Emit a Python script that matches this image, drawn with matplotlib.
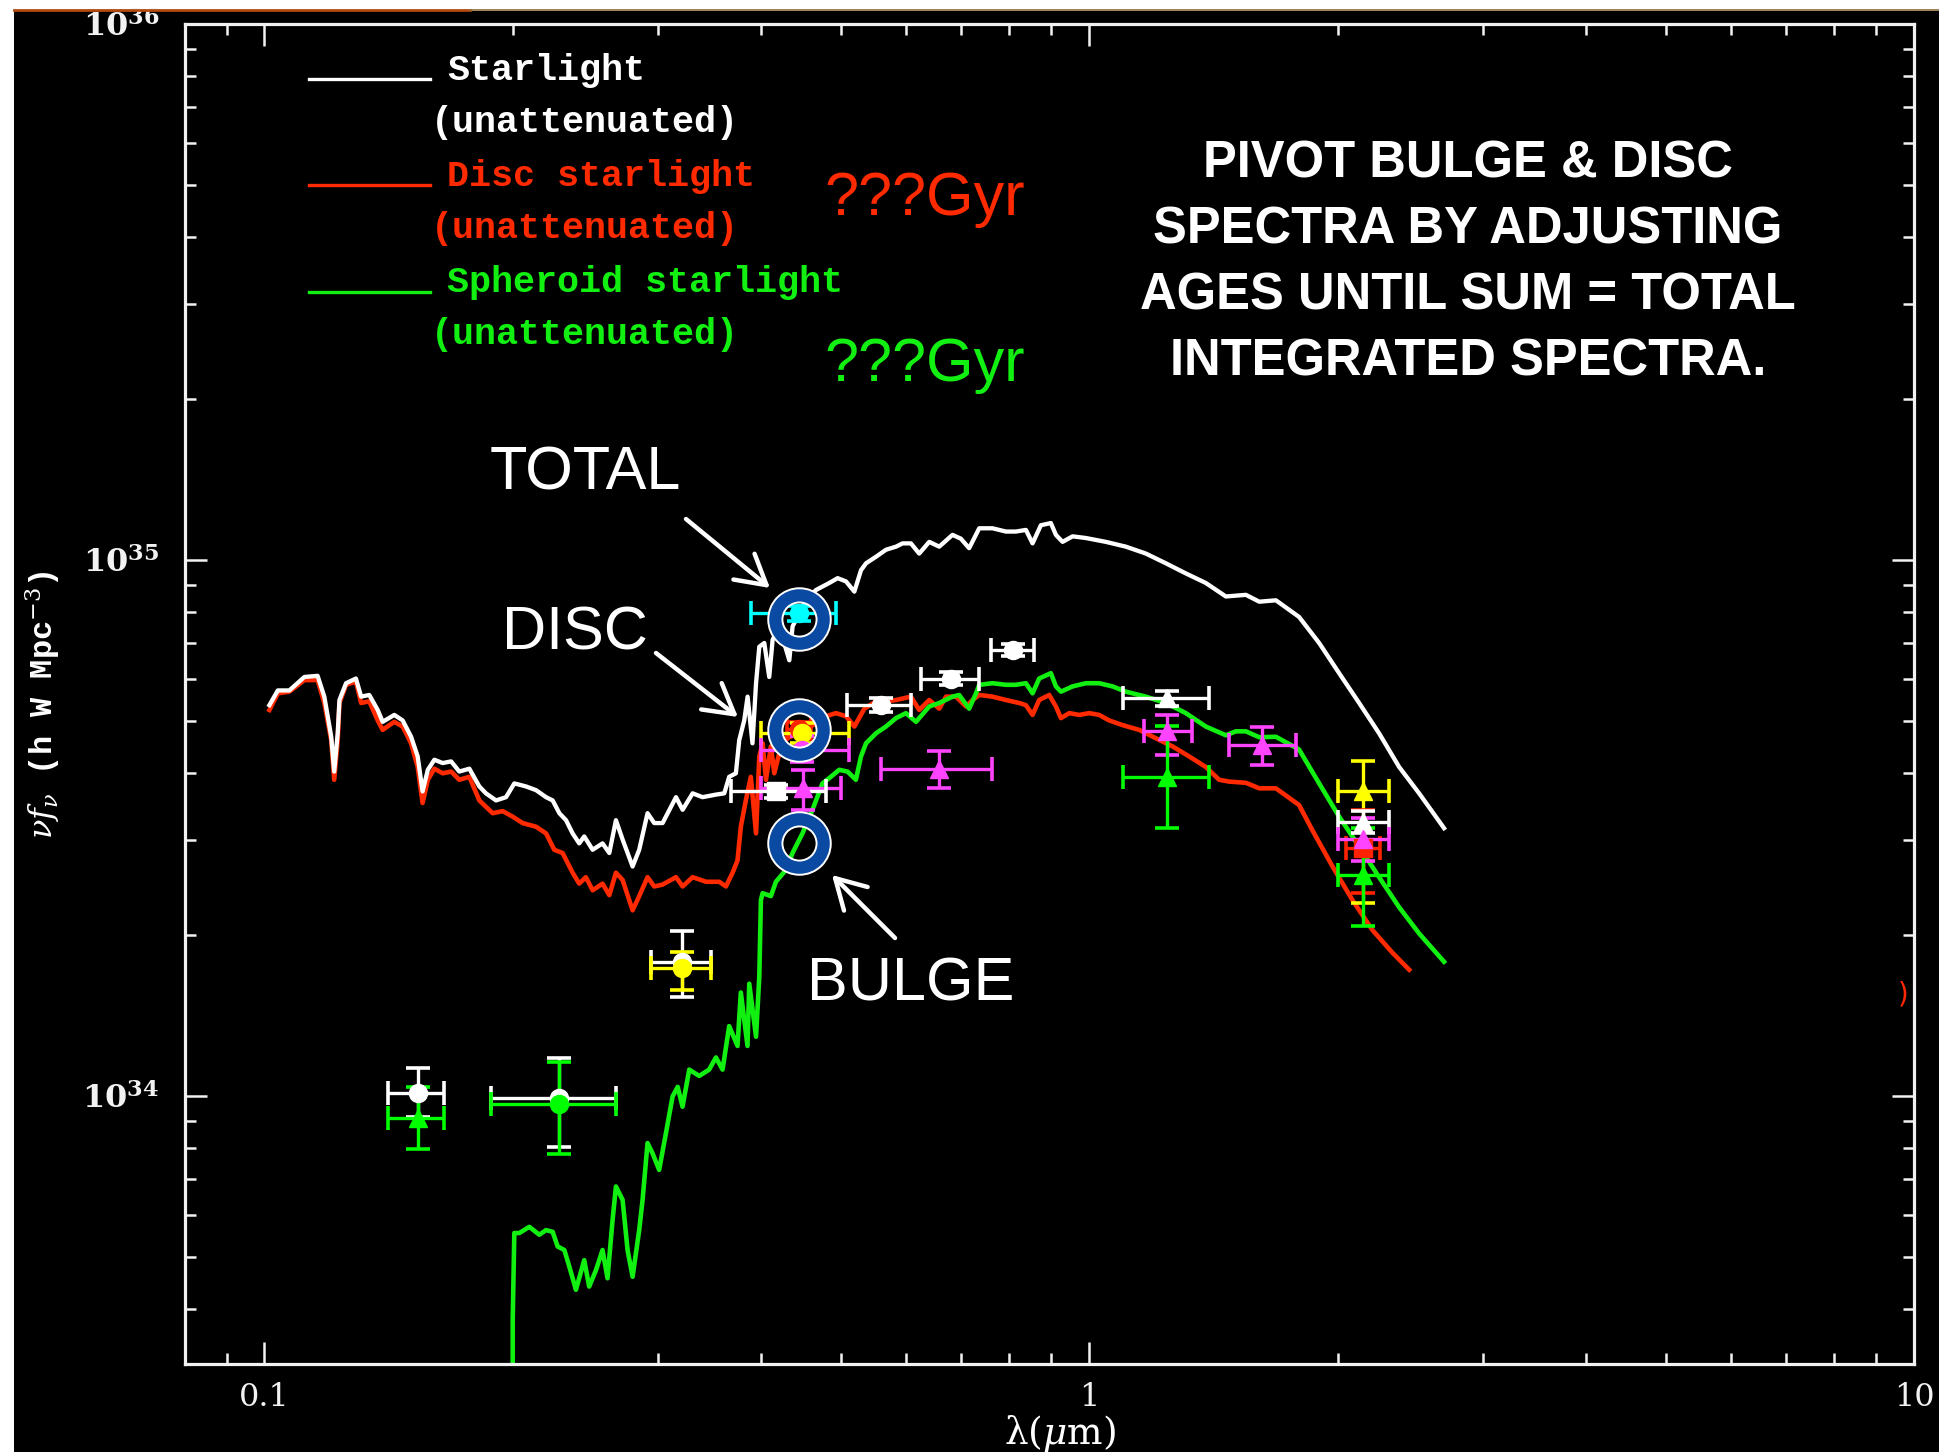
import numpy as np
import matplotlib
matplotlib.use("Agg")
import matplotlib.pyplot as plt
from matplotlib.patches import Rectangle
from matplotlib.lines import Line2D
from matplotlib.ticker import FixedLocator, LogLocator, NullFormatter, FixedFormatter

plt.rcParams['mathtext.fontset'] = 'dejavuserif'

W, H = 1939, 1452          # output size in pixels (dpi 100)
UNIT = 1e34                # fluxes below are in units of 1e34 h W Mpc^-3

# ---- model spectra: wavelength (micron) and nu f_nu (1e34 h W Mpc^-3)
total_lam = [0.1014, 0.1038, 0.1072, 0.1118, 0.1160, 0.1182, 0.1205, 0.1215, 0.1227, 0.1233,
             0.1256, 0.1291, 0.1310, 0.1340, 0.1372, 0.1391, 0.1437, 0.1471, 0.1506, 0.1534,
             0.1555, 0.1578, 0.1607, 0.1645, 0.1684, 0.1723, 0.1772, 0.1822, 0.1856, 0.1909,
             0.1963, 0.2009, 0.2076, 0.2135, 0.2195, 0.2236, 0.2278, 0.2321, 0.2364, 0.2408,
             0.2442, 0.2500, 0.2570, 0.2619, 0.2668, 0.2718, 0.2795, 0.2847, 0.2914, 0.2969,
             0.3039, 0.3155, 0.3214, 0.3305, 0.3398, 0.3527, 0.3610, 0.3660, 0.3729, 0.3764,
             0.3817, 0.3853, 0.3906, 0.3945, 0.3981, 0.4037, 0.4093, 0.4132, 0.4209, 0.4329,
             0.4369, 0.4535, 0.4663, 0.4840, 0.4954, 0.5072, 0.5191, 0.5288, 0.5363, 0.5514,
             0.5670, 0.5831, 0.5939, 0.6079, 0.6221, 0.6398, 0.6579, 0.6827, 0.6988, 0.7152,
             0.7356, 0.7634, 0.7925, 0.8149, 0.8380, 0.8537, 0.8737, 0.8985, 0.9112, 0.9284,
             0.9546, 0.9908, 1.0476, 1.1077, 1.1713, 1.2385, 1.3096, 1.3847, 1.4645, 1.5488,
             1.6075, 1.6841, 1.7966, 1.9002, 2.0091, 2.1247, 2.2462, 2.3756, 2.5119, 2.6929]
total_flux = [5.36, 5.71, 5.71, 6.05, 6.08, 5.56, 4.68, 4.03, 4.75, 5.48,
              5.89, 6.01, 5.56, 5.60, 5.25, 4.99, 5.14, 5.02, 4.68, 4.30,
              3.70, 4.06, 4.24, 4.18, 4.21, 4.03, 4.08, 3.78, 3.67, 3.56,
              3.61, 3.83, 3.78, 3.72, 3.61, 3.56, 3.37, 3.27, 3.09, 2.96,
              3.05, 2.88, 2.96, 2.84, 3.27, 3.01, 2.68, 2.88, 3.37, 3.23,
              3.23, 3.61, 3.42, 3.67, 3.61, 3.65, 3.67, 3.94, 4.00, 4.61,
              5.02, 5.56, 4.55, 5.89, 6.89, 7.00, 6.05, 7.10, 7.52, 6.50,
              7.52, 8.41, 8.79, 9.06, 9.25, 9.12, 8.73, 9.57, 9.86, 10.14,
              10.45, 10.59, 10.74, 10.74, 10.28, 10.81, 10.59, 11.14, 10.96, 10.52,
              11.46, 11.46, 11.30, 11.30, 11.38, 10.74, 11.61, 11.72, 11.14, 10.81,
              11.07, 10.99, 10.81, 10.59, 10.28, 9.86, 9.44, 9.06, 8.55, 8.61,
              8.36, 8.41, 7.83, 7.00, 6.15, 5.41, 4.75, 4.11, 3.67, 3.16]

disc_lam = [0.1014, 0.1038, 0.1072, 0.1118, 0.1160, 0.1182, 0.1205, 0.1215, 0.1227, 0.1233,
            0.1256, 0.1291, 0.1310, 0.1340, 0.1372, 0.1391, 0.1437, 0.1471, 0.1506, 0.1534,
            0.1555, 0.1578, 0.1607, 0.1645, 0.1684, 0.1723, 0.1772, 0.1822, 0.1891, 0.1945,
            0.2000, 0.2056, 0.2134, 0.2195, 0.2246, 0.2299, 0.2364, 0.2408, 0.2453, 0.2500,
            0.2570, 0.2619, 0.2668, 0.2718, 0.2795, 0.2847, 0.2914, 0.2969, 0.3039, 0.3155,
            0.3214, 0.3305, 0.3431, 0.3560, 0.3627, 0.3695, 0.3746, 0.3781, 0.3834, 0.3888,
            0.3945, 0.3981, 0.4018, 0.4056, 0.4112, 0.4151, 0.4248, 0.4535, 0.4795, 0.4931,
            0.5072, 0.5191, 0.5338, 0.5514, 0.5670, 0.5831, 0.6079, 0.6221, 0.6398, 0.6579,
            0.6705, 0.6894, 0.7087, 0.7220, 0.7356, 0.7634, 0.7925, 0.8227, 0.8380, 0.8537,
            0.8697, 0.8944, 0.9112, 0.9241, 0.9458, 0.9725, 1.0000, 1.0283, 1.0573, 1.0975,
            1.1498, 1.2045, 1.2619, 1.3219, 1.3847, 1.4372, 1.4781, 1.5488, 1.6075, 1.6841,
            1.7966, 1.8650, 1.9724, 2.0854, 2.2046, 2.3318, 2.4434]
disc_flux = [5.25, 5.64, 5.68, 5.97, 5.97, 5.41, 4.61, 3.89, 4.61, 5.41,
             5.85, 5.93, 5.41, 5.45, 5.02, 4.82, 4.99, 4.89, 4.55, 4.11,
             3.52, 3.89, 4.08, 4.00, 4.03, 3.89, 3.94, 3.56, 3.37, 3.40,
             3.32, 3.23, 3.18, 3.09, 2.88, 2.84, 2.61, 2.49, 2.56, 2.42,
             2.49, 2.37, 2.61, 2.53, 2.22, 2.36, 2.56, 2.46, 2.48, 2.56,
             2.46, 2.56, 2.51, 2.51, 2.46, 2.61, 2.75, 3.18, 3.56, 3.94,
             3.09, 4.30, 4.55, 3.89, 4.49, 4.00, 4.61, 4.82, 5.11, 5.18,
             5.11, 4.89, 5.28, 5.45, 5.45, 5.48, 5.56, 5.25, 5.48, 5.28,
             5.56, 5.56, 5.33, 5.48, 5.60, 5.56, 5.48, 5.41, 5.36, 5.14,
             5.48, 5.60, 5.33, 5.07, 5.18, 5.14, 5.18, 5.14, 5.02, 4.92,
             4.82, 4.65, 4.49, 4.30, 4.11, 3.89, 3.86, 3.84, 3.75, 3.75,
             3.49, 3.13, 2.68, 2.32, 2.04, 1.85, 1.72]

bulge_lam = [0.2000, 0.2000, 0.2009, 0.2037, 0.2095, 0.2154, 0.2195, 0.2236, 0.2267, 0.2310,
             0.2342, 0.2386, 0.2442, 0.2476, 0.2523, 0.2570, 0.2606, 0.2643, 0.2668, 0.2718,
             0.2756, 0.2795, 0.2847, 0.2874, 0.2914, 0.2955, 0.3010, 0.3067, 0.3125, 0.3170,
             0.3213, 0.3274, 0.3366, 0.3461, 0.3527, 0.3593, 0.3660, 0.3746, 0.3781, 0.3852,
             0.3871, 0.3945, 0.3981, 0.3999, 0.4018, 0.4112, 0.4170, 0.4287, 0.4368, 0.4491,
             0.4618, 0.4749, 0.4861, 0.4976, 0.5093, 0.5213, 0.5288, 0.5363, 0.5514, 0.5670,
             0.5831, 0.5995, 0.6166, 0.6398, 0.6579, 0.6827, 0.6955, 0.7152, 0.7291, 0.7356,
             0.7634, 0.7925, 0.8149, 0.8380, 0.8537, 0.8697, 0.8985, 0.9112, 0.9241, 0.9546,
             0.9908, 1.0283, 1.0674, 1.1077, 1.1713, 1.2385, 1.3096, 1.3847, 1.4645, 1.5058,
             1.5488, 1.6075, 1.6841, 1.7966, 1.9002, 2.0091, 2.1247, 2.2462, 2.3756, 2.5119,
             2.6929]
bulge_flux = [0.30, 0.382, 0.555, 0.555, 0.570, 0.551, 0.562, 0.558, 0.524, 0.516,
              0.481, 0.435, 0.494, 0.441, 0.473, 0.516, 0.457, 0.587, 0.678, 0.640,
              0.516, 0.460, 0.562, 0.640, 0.817, 0.782, 0.728, 0.851, 0.998, 1.04,
              0.955, 1.12, 1.09, 1.12, 1.18, 1.12, 1.35, 1.24, 1.56, 1.24,
              1.62, 1.29, 1.67, 2.32, 2.39, 2.36, 2.51, 2.64, 2.84, 3.09,
              3.42, 3.83, 3.94, 4.06, 4.03, 3.89, 4.30, 4.55, 4.75, 4.89,
              5.07, 5.18, 4.99, 5.33, 5.41, 5.56, 5.60, 5.28, 5.64, 5.85,
              5.89, 5.85, 5.85, 5.89, 5.64, 6.01, 6.15, 5.81, 5.68, 5.81,
              5.89, 5.89, 5.81, 5.68, 5.56, 5.41, 5.18, 4.89, 4.71, 4.79,
              4.79, 4.67, 4.68, 4.43, 3.83, 3.32, 2.92, 2.56, 2.25, 2.01,
              1.78]

# ---- photometry with error bars (wavelength range and flux range)
phot_lam  = [0.1534, 0.2274, 0.3208, 0.1534, 0.2274, 0.3208, 0.445, 0.445, 0.448, 0.448,
             0.450, 0.417, 0.559, 0.680, 0.809, 0.658, 1.244, 1.244, 1.244, 1.622,
             2.15, 2.15, 2.15, 2.15, 2.15]
phot_flux = [1.014, 0.991, 1.782, 0.908, 0.968, 1.730, 7.96, 4.84, 4.75, 4.42,
             3.76, 3.70, 5.36, 6.01, 6.79, 4.08, 5.52, 4.79, 3.94, 4.52,
             3.70, 2.90, 3.25, 3.01, 2.58]
phot_xlo  = [0.141, 0.188, 0.294, 0.141, 0.188, 0.294, 0.389, 0.430, 0.400, 0.400,
             0.400, 0.368, 0.508, 0.625, 0.760, 0.559, 1.098, 1.166, 1.098, 1.478,
             2.00, 2.05, 2.00, 2.00, 2.00]
phot_xhi  = [0.165, 0.267, 0.348, 0.165, 0.267, 0.348, 0.493, 0.460, 0.512, 0.512,
             0.500, 0.479, 0.608, 0.736, 0.858, 0.762, 1.398, 1.334, 1.398, 1.781,
             2.31, 2.25, 2.31, 2.31, 2.31]
phot_ylo  = [0.912, 0.802, 1.531, 0.796, 0.780, 1.580, 7.70, 4.70, 4.55, 4.20,
             3.42, 3.60, 5.20, 5.85, 6.62, 3.75, 5.35, 4.33, 3.16, 4.15,
             2.29, 2.39, 3.10, 2.75, 2.08]
phot_yhi  = [1.127, 1.175, 2.032, 1.038, 1.156, 1.858, 8.20, 4.98, 4.97, 4.70,
             4.06, 3.80, 5.52, 6.18, 6.96, 4.41, 5.70, 5.14, 4.90, 4.89,
             4.21, 3.42, 3.40, 3.30, 3.16]
phot_color = ['white', 'white', 'white', '#00ff00', '#00ff00', '#ffff00', '#00ffff', '#ff2200',
              '#ffff00', '#ff44ff', '#ff44ff', 'white', 'white', 'white', 'white', '#ff44ff',
              'white', '#ff44ff', '#00ff00', '#ff44ff', '#ffff00', '#ff2200', 'white',
              '#ff44ff', '#00ff00']
phot_marker = ['o', 'o', 'o', '^', 'o', 'o', 'o', 'o', 'o', 'o', '^', 's', 'o', 'o', 'o', '^',
               '^', '^', '^', '^', '^', 's', '^', '^', '^']

# ---- highlighted B-band values (total, disc, bulge)
ring_lam = [0.445, 0.445, 0.445]
ring_flux = [7.76, 4.81, 2.96]

RED = '#ff2a00'
GREEN = '#11f011'
BLUE = '#0a4aa2'

fig = plt.figure(figsize=(W / 100, H / 100), dpi=100, facecolor='white')


def fx(px):
    return px / W


def fy(py):
    return 1 - py / H


# dark page with a thin rule along its top edge
fig.patches.append(Rectangle((fx(14), 0), 1, fy(11), transform=fig.transFigure,
                             facecolor='black', edgecolor='none', zorder=-10))
fig.add_artist(Line2D([fx(14), fx(470)], [fy(10), fy(10)], color='#b04a10', lw=2))
fig.add_artist(Line2D([fx(470), fx(1939)], [fy(10), fy(10)], color='#8c6c3c', lw=1.2))

ax = fig.add_axes([fx(184.5), fy(1364), fx(1914 - 184.5), (1364 - 24) / H])
ax.set_facecolor('black')
ax.set_xscale('log')
ax.set_yscale('log')
ax.set_xlim(0.08, 10)
ax.set_ylim(10 ** 33.5, 1e36)

ax.plot(total_lam, np.array(total_flux) * UNIT, color='white', lw=3.1, zorder=3)
ax.plot(disc_lam, np.array(disc_flux) * UNIT, color=RED, lw=3.3, zorder=2)
ax.plot(bulge_lam, np.array(bulge_flux) * UNIT, color=GREEN, lw=3.3, zorder=2)

for lam, f, xlo, xhi, ylo, yhi, c, m in zip(phot_lam, phot_flux, phot_xlo, phot_xhi,
                                            phot_ylo, phot_yhi, phot_color, phot_marker):
    ax.errorbar([lam], [f * UNIT],
                xerr=[[lam - xlo], [xhi - lam]],
                yerr=[[(f - ylo) * UNIT], [(yhi - f) * UNIT]],
                fmt=m, color=c, ms=13, mec=c, elinewidth=2.4, capsize=8.5, capthick=2.6,
                zorder=4)

# blue rings with a thin white rim
ring_f = np.array(ring_flux) * UNIT
ax.plot(ring_lam, ring_f, 'o', ms=34.8, mfc='none', mec='white', mew=11.6, zorder=6)
ax.plot(ring_lam, ring_f, 'o', ms=34.8, mfc='none', mec=BLUE, mew=8.8, zorder=7)

# axes frame and ticks
for s in ax.spines.values():
    s.set_color('#f2f2f2')
    s.set_linewidth(2.3)
ax.xaxis.set_major_locator(FixedLocator([0.1, 1, 10]))
ax.xaxis.set_major_formatter(FixedFormatter(['0.1', '1', '10']))
ax.xaxis.set_minor_locator(LogLocator(base=10, subs=np.arange(2, 10)))
ax.xaxis.set_minor_formatter(NullFormatter())
ax.yaxis.set_major_locator(FixedLocator([1e34, 1e35, 1e36]))
ax.yaxis.set_major_formatter(FixedFormatter([r'$\mathbf{10^{34}}$', r'$\mathbf{10^{35}}$',
                                             r'$\mathbf{10^{36}}$']))
ax.yaxis.set_minor_locator(LogLocator(base=10, subs=np.arange(2, 10)))
ax.yaxis.set_minor_formatter(NullFormatter())
ax.tick_params(which='both', direction='in', top=True, right=True, colors='#f2f2f2',
               width=1.8)
ax.tick_params(which='major', length=16)
ax.tick_params(which='minor', length=8)
ax.tick_params(axis='x', which='major', labelsize=23, pad=13)
ax.tick_params(axis='y', which='major', labelsize=23, pad=18)
for lab in ax.get_xticklabels():
    lab.set_family('DejaVu Serif')

fig.text(fx(43), fy(705), r'$\nu f_\nu$ (h W Mpc$^{-3}$)', rotation=90, color='white',
         fontsize=23, family='Liberation Mono', weight='bold', ha='center', va='center')
fig.text(fx(1060), fy(1434), r'$\mathrm{\lambda}(\mu\mathrm{m})$', color='white', fontsize=27,
         ha='center', va='center')

# legend
legend_rows = [('white', 'Starlight', 79), (RED, 'Disc starlight', 185),
               (GREEN, 'Spheroid starlight', 292)]
for c, name, y in legend_rows:
    fig.add_artist(Line2D([fx(309), fx(430)], [fy(y), fy(y)], color=c, lw=2.4))
    fig.text(fx(447), fy(y - 9), name, color=c, fontsize=26.5, family='Liberation Mono',
             weight='bold', ha='left', va='center')
    fig.text(fx(431), fy(y + 43), '(unattenuated)', color=c, fontsize=26.5,
             family='Liberation Mono', weight='bold', ha='left', va='center')

# annotations
fig.text(fx(925), fy(200), '???Gyr', color=RED, fontsize=44, family='Liberation Sans',
         ha='center', va='center')
fig.text(fx(925), fy(365), '???Gyr', color=GREEN, fontsize=44, family='Liberation Sans',
         ha='center', va='center')

title_lines = ['PIVOT BULGE & DISC', 'SPECTRA BY ADJUSTING', 'AGES UNTIL SUM = TOTAL',
               'INTEGRATED SPECTRA.']
for i, line in enumerate(title_lines):
    fig.text(fx(1468), fy(164 + 66 * i), line, color='white', fontsize=36.5,
             family='Liberation Sans', weight='bold', ha='center', va='center')

labels = [('TOTAL', (585, 474), (686, 519), (770, 588)),
          ('DISC', (575, 634), (656, 653), (738, 717)),
          ('BULGE', (911, 985), (895, 938), (832, 875))]
for txt, pos, tail, tip in labels:
    fig.text(fx(pos[0]), fy(pos[1]), txt, color='white', fontsize=44,
             family='Liberation Sans', ha='center', va='center')
    ax.annotate('', xy=(fx(tip[0]), fy(tip[1])), xytext=(fx(tail[0]), fy(tail[1])),
                xycoords='figure fraction', textcoords='figure fraction',
                arrowprops=dict(arrowstyle='->,head_length=0.7,head_width=0.4',
                                color='white', lw=3.2, mutation_scale=30,
                                shrinkA=0, shrinkB=0))

fig.text(fx(1903), fy(995), ')', color=RED, fontsize=20, ha='center', va='center')

fig.savefig('out.png', dpi=100, facecolor=fig.get_facecolor())
